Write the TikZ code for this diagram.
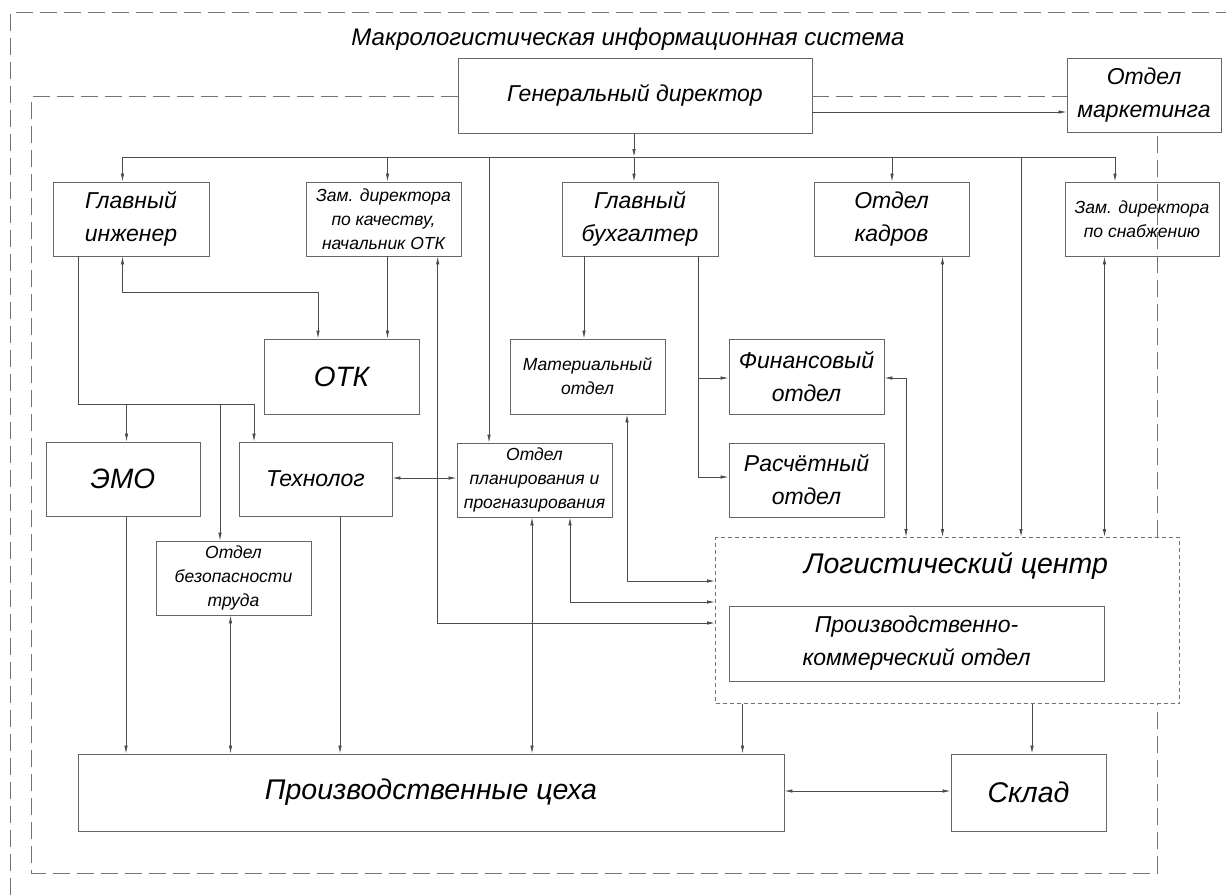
\documentclass[tikz,border=0pt]{standalone}
\usepackage{fontspec}
\setmainfont{Liberation Sans}
\usetikzlibrary{arrows.meta}
\tikzset{
  box/.style={draw=black!60, line width=0.9pt, inner sep=0pt, align=center,
    font=\itshape\fontsize{23}{33}\selectfont},
  smallbox/.style={box, font=\itshape\fontsize{17.5}{24}\selectfont},
  bigbox/.style={box, font=\itshape\fontsize{28}{33}\selectfont},
  ln/.style={draw=black!70, line width=0.8pt},
  arr/.style={ln, -{Latex[length=8pt,width=3.5pt]}},
  darr/.style={ln, {Latex[length=8pt,width=3.5pt]}-{Latex[length=8pt,width=3.5pt]}},
  frame/.style={draw=black!55, line width=1pt, dash pattern=on 17pt off 7pt},
  fine/.style={draw=black!55, line width=1pt, dash pattern=on 4pt off 3pt},
  lbl/.style={inner sep=0pt, font=\itshape\fontsize{24}{30}\selectfont}
}
\begin{document}
\begin{tikzpicture}[x=1pt,y=-1pt]
\useasboundingbox (0,0) rectangle (1226,895);
\fill[white] (0,0) rectangle (1226,895);

% outer frame and title
\draw[frame] (10.5,895) -- (10.5,12.5) -- (1226,12.5);
\node[lbl, anchor=base] (title) at (628,45) {Макрологистическая информационная система};

% boxes
\node[box, minimum width=354pt, minimum height=75pt] (gd) at (635,95.5) {Генеральный директор};
\node[box, minimum width=154pt, minimum height=74pt] (mkt) at (1144,95) {Отдел\\маркетинга};

\node[box, minimum width=156pt, minimum height=74pt] (ginj) at (131,219) {Главный\\инженер};
\node[smallbox, minimum width=155pt, minimum height=74pt] (zkach) at (383.5,219) {Зам. директора\\по качеству,\\начальник ОТК};
\node[box, minimum width=156pt, minimum height=74pt] (gbuh) at (640,219) {Главный\\бухгалтер};
\node[box, minimum width=155pt, minimum height=74pt] (kadr) at (891.5,219) {Отдел\\кадров};
\node[smallbox, minimum width=154pt, minimum height=74pt] (zsnab) at (1142,219) {Зам. директора\\по снабжению};

\node[bigbox, minimum width=155pt, minimum height=75pt] (otk) at (341.5,376.5) {ОТК};
\node[smallbox, minimum width=155pt, minimum height=75pt] (mat) at (587.5,376.5) {Материальный\\отдел};
\node[box, minimum width=155pt, minimum height=75pt] (fin) at (806.5,376.5) {Финансовый\\отдел};

\node[bigbox, minimum width=154pt, minimum height=74pt] (emo) at (123,479) {ЭМО};
\node[box, minimum width=153pt, minimum height=74pt] (tech) at (315.5,479) {Технолог};
\node[smallbox, minimum width=155pt, minimum height=74pt] (plan) at (534.5,480) {Отдел\\планирования и\\прогназирования};
\node[box, minimum width=155pt, minimum height=74pt] (rasch) at (806.5,480) {Расчётный\\отдел};

\node[smallbox, minimum width=155pt, minimum height=74pt] (bez) at (233.5,578) {Отдел\\безопасности\\труда};

\node[fine, inner sep=0pt, minimum width=464pt, minimum height=166pt] (log) at (947.5,620.5) {};
\node[inner sep=0pt, font=\itshape\fontsize{28.5}{34}\selectfont] (logt) at (956,566) {Логистический центр};
\node[box, minimum width=375pt, minimum height=75pt] (pk) at (916.5,643.5) {Производственно-\\коммерческий отдел};

\node[box, font=\itshape\fontsize{28.5}{33}\selectfont, minimum width=706pt, minimum height=77pt] (ceh) at (431,792.5) {Производственные цеха};
\node[box, font=\itshape\fontsize{28.5}{33}\selectfont, minimum width=155pt, minimum height=77pt] (sklad) at (1028.5,792.5) {Склад};

% inner dashed frame
\coordinate (f1) at (31.5,96.5);
\coordinate (f2) at (31.5,873);
\coordinate (f3) at (1157,873);
\draw[frame] (gd.west |- f1) -- (f1) -- (f2) -- (f3) -- (f3 |- log.south);
\draw[frame] (f3 |- log.north) -- (f3 |- mkt.south);
\draw[frame] (gd.east |- f1) -- (mkt.west |- f1);

% director to marketing
\coordinate (m1) at (0,112);
\draw[arr] (gd.east |- m1) -- (mkt.west |- m1);

% bus
\coordinate (b1) at (122.5,157);
\coordinate (b2) at (387.5,157);
\coordinate (b3) at (489,157);
\coordinate (b4) at (634,157);
\coordinate (b5) at (892,157);
\coordinate (b6) at (1021,157);
\coordinate (b7) at (1115,157);
\draw[ln] (b1) -- (b7);
\draw[arr] (b4 |- gd.south) -- (b4);
\draw[arr] (b1) -- (b1 |- ginj.north);
\draw[arr] (b2) -- (b2 |- zkach.north);
\draw[arr] (b3) -- (b3 |- plan.north);
\draw[arr] (b4) -- (b4 |- gbuh.north);
\draw[arr] (b5) -- (b5 |- kadr.north);
\draw[arr] (b6) -- (b6 |- log.north);
\draw[arr] (b7) -- (b7 |- zsnab.north);

% chief engineer
\coordinate (g1) at (78,404);
\coordinate (g2) at (126.5,404);
\coordinate (g3) at (220,404);
\coordinate (g4) at (254,404);
\draw[ln] (g1 |- ginj.south) -- (g1) -- (g4);
\draw[arr] (g2) -- (g2 |- emo.north);
\draw[arr] (g3) -- (g3 |- bez.north);
\draw[arr] (g4) -- (g4 |- tech.north);
\coordinate (h1) at (122.5,292);
\coordinate (h2) at (318,292);
\draw[darr] (h1 |- ginj.south) -- (h1) -- (h2) -- (h2 |- otk.north);

% quality deputy
\coordinate (k1) at (387.5,300);
\draw[arr] (k1 |- zkach.south) -- (k1 |- otk.north);
\coordinate (k2) at (437.7,623);
\draw[darr] (k2 |- zkach.south) -- (k2) -- (k2 -| log.west);

% chief accountant
\coordinate (u1) at (584,300);
\draw[arr] (u1 |- gbuh.south) -- (u1 |- mat.north);
\coordinate (u2) at (698,378);
\coordinate (u3) at (698,477);
\draw[ln] (u2 |- gbuh.south) -- (u3);
\draw[arr] (u2) -- (u2 -| fin.west);
\draw[arr] (u3) -- (u3 -| rasch.west);

% links to logistics centre
\coordinate (v1) at (627,581);
\draw[darr] (v1 |- mat.south) -- (v1) -- (v1 -| log.west);
\coordinate (v2) at (570,602);
\draw[darr] (v2 |- plan.south) -- (v2) -- (v2 -| log.west);
\coordinate (v3) at (532,700);
\draw[darr] (v3 |- plan.south) -- (v3 |- ceh.north);
\coordinate (t1) at (0,478);
\draw[darr] (tech.east |- t1) -- (plan.west |- t1);
\coordinate (w1) at (906,378);
\draw[darr] (w1 -| fin.east) -- (w1) -- (w1 |- log.north);
\coordinate (w2) at (942.5,400);
\draw[darr] (w2 |- kadr.south) -- (w2 |- log.north);
\coordinate (w3) at (1104.5,400);
\draw[darr] (w3 |- zsnab.south) -- (w3 |- log.north);

% to production shops and warehouse
\coordinate (c1) at (126,700);
\draw[arr] (c1 |- emo.south) -- (c1 |- ceh.north);
\coordinate (c2) at (230.5,700);
\draw[darr] (c2 |- bez.south) -- (c2 |- ceh.north);
\coordinate (c3) at (340,700);
\draw[arr] (c3 |- tech.south) -- (c3 |- ceh.north);
\coordinate (c4) at (742.5,730);
\draw[arr] (c4 |- log.south) -- (c4 |- ceh.north);
\coordinate (c5) at (1032,730);
\draw[arr] (c5 |- log.south) -- (c5 |- sklad.north);
\coordinate (c6) at (0,791);
\draw[darr] (ceh.east |- c6) -- (sklad.west |- c6);
\end{tikzpicture}
\end{document}
